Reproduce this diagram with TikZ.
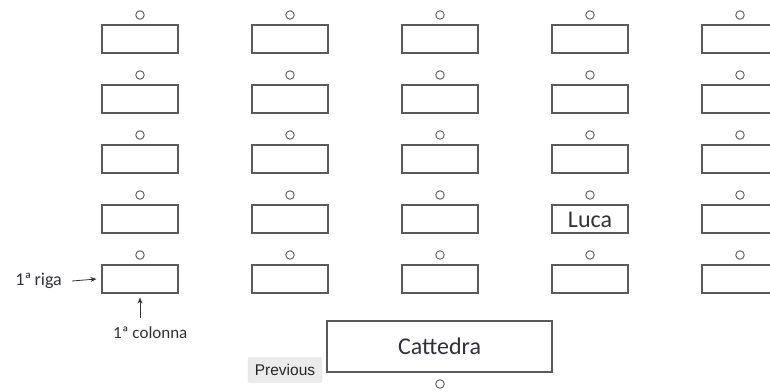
\documentclass[tikz,border=0pt]{standalone}
\usepackage{fontspec}
\setmainfont{Carlito}
\newfontfamily\btnfont{Liberation Sans}
\usetikzlibrary{arrows.meta}
\definecolor{ln}{HTML}{5A5A5A}
\definecolor{tx}{HTML}{30303A}
\begin{document}
\begin{tikzpicture}[x=1pt,y=-1pt,
  desk/.style={draw=ln,line width=1.1pt,minimum width=76pt,minimum height=28pt,inner sep=0pt,text=tx},
  seat/.style={circle,draw=ln,line width=0.9pt,minimum size=8.5pt,inner sep=0pt},
  lbl/.style={text=tx,font=\fontsize{17}{19}\selectfont,inner sep=0pt},
  arr/.style={draw=tx,line width=0.8pt,-{Stealth[length=6pt,width=5pt]}}]
\useasboundingbox (0,0) rectangle (770,391);
\clip (0,0) rectangle (770,391);
\foreach \c [count=\i] in {140,290,440,590,740}{
  \foreach \r [count=\j] in {39,99,159,219,279}{
    \node[desk] (d\i\j) at (\c,\r) {};
    \node[seat] (s\i\j) at (\c,\r-24) {};
  }
}
\node[text=tx,font=\fontsize{24}{26}\selectfont,inner sep=0pt] (luca) at (590,220) {Luca};
\node[desk,minimum width=225pt,minimum height=51pt,font=\fontsize{24}{26}\selectfont] (catt) at (439.5,346.5) {Cattedra};
\node[seat] (sc) at (440,384) {};
\node[draw=black!12,fill=black!8,rounded corners=2pt,minimum width=74pt,minimum height=25pt,inner sep=0pt,font=\btnfont\fontsize{15.5}{17}\selectfont,text=black!85] (prev) at (285,370) {Previous};
\node[lbl,anchor=east,font=\fontsize{18}{20}\selectfont] (riga) at (62,281) {1ª\,riga};
\coordinate (ra) at (72,281);
\draw[arr] (ra) -- ([xshift=-5pt]d15.west);
\node[lbl,anchor=west] (col) at (113,333) {1ª colonna};
\coordinate (ca) at (140,318);
\draw[arr] (ca) -- ([yshift=-4pt]d15.south);
\end{tikzpicture}
\end{document}
